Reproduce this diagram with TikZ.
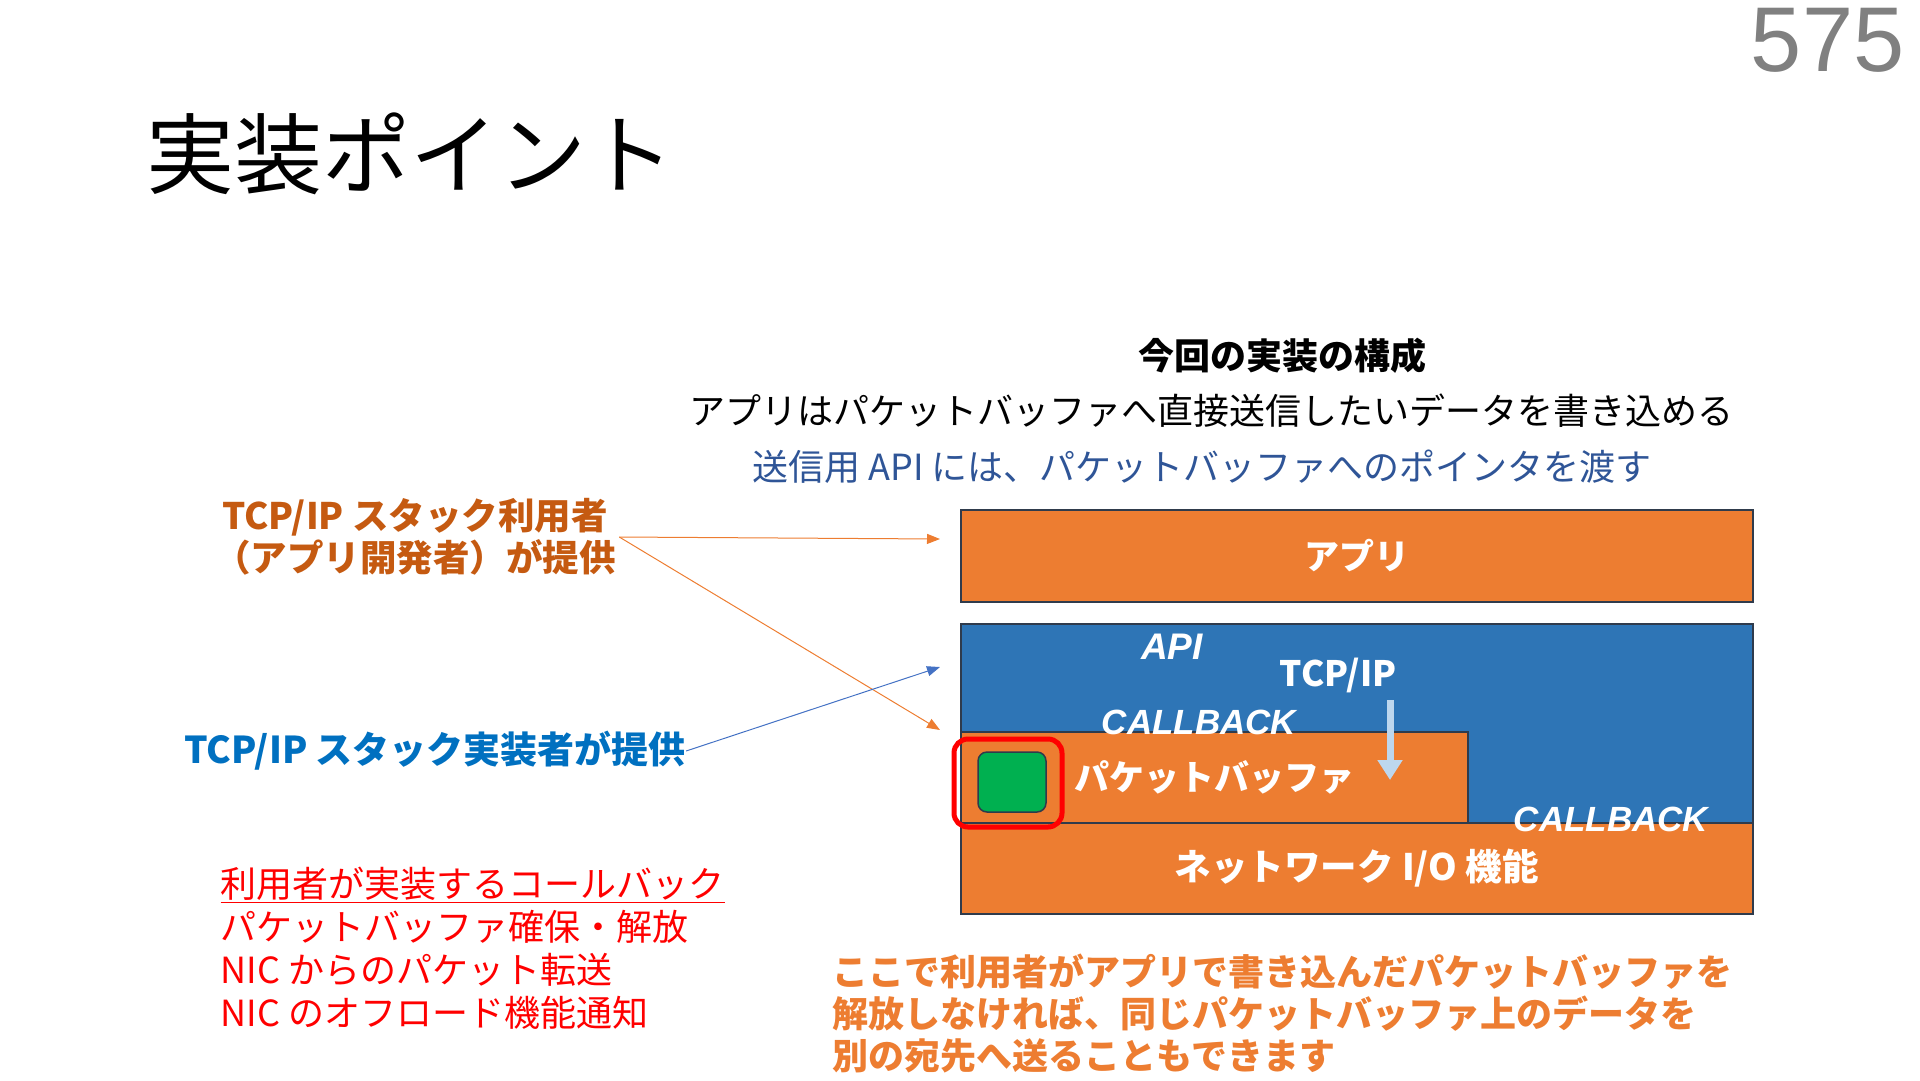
\documentclass[tikz,border=0pt]{standalone}
\usepackage{fontspec}
\setmainfont{Noto Sans CJK JP}
\newfontfamily\latinfont{Liberation Sans}
\usetikzlibrary{arrows.meta}

\definecolor{boxorange}{HTML}{ED7D31}
\definecolor{boxblue}{HTML}{2E75B6}
\definecolor{boxline}{HTML}{2F3B4C}
\definecolor{bufgreen}{HTML}{00B050}
\definecolor{usertext}{HTML}{C55A11}
\definecolor{impltext}{HTML}{0070C0}
\definecolor{apitext}{HTML}{2F5597}
\definecolor{arrowblue}{HTML}{4472C4}
\definecolor{downarrow}{HTML}{BDD7EE}
\definecolor{pagegray}{HTML}{808080}
\newcommand{\fsz}[2]{\fontsize{#1}{#2}\selectfont}

\begin{document}
\begin{tikzpicture}[
  x=1pt, y=-1pt,
  layer/.style={draw=boxline, line width=1.5pt, fill=boxorange, anchor=north west, inner sep=0pt},
  boxtext/.style={text=white, font=\fsz{35}{40}\bfseries},
  calltext/.style={text=white, font=\latinfont\fsz{35}{40}\bfseries\itshape},
  lead/.style={line width=1pt, -{Triangle[length=13pt,width=10pt]}}
]
  \useasboundingbox (0,0) rectangle (1920,1080);

  % titre et numero
  \node[anchor=west, font=\fsz{88}{92}] (title) at (143,154) {実装ポイント};
  \node[anchor=east, text=pagegray, font=\latinfont\fsz{92}{96}] (pageno) at (1908,40) {575};

  % en-tete du schema
  \node[font=\fsz{36}{40}\bfseries] (heading) at (1282,356) {今回の実装の構成};
  \node[font=\fsz{36}{42}] (lead1) at (1211,411) {アプリはパケットバッファへ直接送信したいデータを書き込める};
  \node[font=\fsz{36}{42}, text=apitext] (lead2) at (1202,467) {送信用 API には、パケットバッファへのポインタを渡す};

  % couches
  \node[layer, minimum width=792pt, minimum height=92pt, boxtext] (app) at (960,509) {アプリ};
  \node[layer, fill=boxblue, minimum width=792pt, minimum height=290pt] (stack) at (960,623) {};
  \node[layer, minimum width=507pt, minimum height=91pt, boxtext] (pktbuf) at (960,731) {パケットバッファ};
  \node[layer, minimum width=792pt, minimum height=91pt, boxtext, font=\fsz{36.5}{40}\bfseries] (nwio) at (960,822) {ネットワーク I/O 機能};

  \node[draw=boxline, line width=1.5pt, fill=bufgreen, rounded corners=9pt,
        minimum width=68pt, minimum height=60pt] (pkt) at (1012,782) {};
  \node[draw=red, line width=5pt, rounded corners=14pt,
        minimum width=108pt, minimum height=88pt] (mark) at (1008,783) {};

  \node[calltext, font=\latinfont\fsz{37}{40}\bfseries\itshape] (apilbl) at (1172,647) {API};
  \node[boxtext] (tcpip) at (1338,675) {TCP/IP};
  \node[calltext] (cb1) at (1199,722) {CALLBACK};
  \node[calltext] (cb2) at (1611,819) {CALLBACK};

  \coordinate (dtop) at (1390,700);
  \coordinate (dbot) at (1390,780);
  \draw[downarrow, line width=7pt, -{Triangle[length=20pt,width=24pt]}] (dtop) -- (dbot);

  % qui fournit quoi
  \node[font=\fsz{36.5}{42}\bfseries, text=usertext, align=center] (user) at (415,537)
    {TCP/IP スタック利用者\\（アプリ開発者）が提供};
  \node[anchor=west, inner sep=0pt, font=\fsz{37}{40}\bfseries, text=impltext] (impl) at (184,751)
    {TCP/IP スタック実装者が提供};

  \coordinate (appin) at (940,539);
  \coordinate (bufin) at (940,730);
  \coordinate (stackin) at (940,667);
  \draw[lead, boxorange] (user.east) -- (appin);
  \draw[lead, boxorange] (user.east) -- (bufin);
  \draw[lead, arrowblue] (impl.east) -- (stackin);

  % notes
  \node[anchor=west, align=left, text=red, font=\fsz{36}{43}] (cblist) at (217,948)
    {\underline{利用者が実装するコールバック}\\パケットバッファ確保・解放\\NIC からのパケット転送\\NIC のオフロード機能通知};
  \node[anchor=west, align=left, text=boxorange, font=\fsz{36}{42}\bfseries] (note) at (829,1013)
    {ここで利用者がアプリで書き込んだパケットバッファを\\解放しなければ、同じパケットバッファ上のデータを\\別の宛先へ送ることもできます};
\end{tikzpicture}
\end{document}
